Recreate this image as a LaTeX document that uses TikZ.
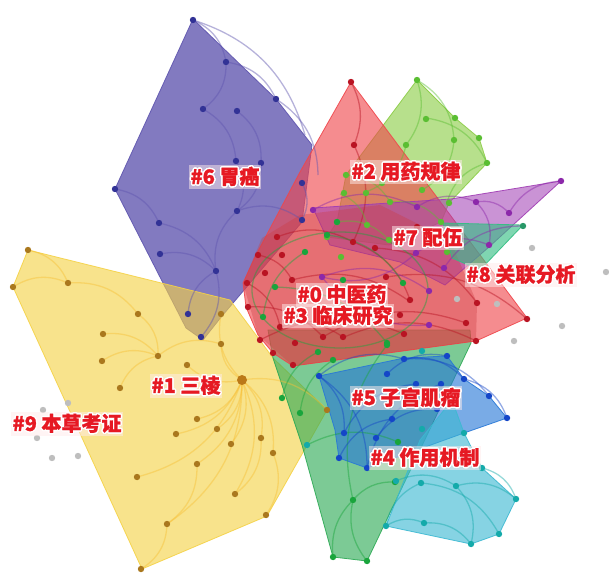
\documentclass[tikz,border=0pt]{standalone}
\usepackage{fontspec}
\newfontfamily\cjk{Noto Sans CJK SC}[BoldFeatures={FakeBold=1.2}]
\usepackage{contour}
\contourlength{1.4pt}
\contournumber{16}
\definecolor{cpur}{RGB}{95,85,175}
\definecolor{cred}{RGB}{240,70,75}
\definecolor{cyel}{RGB}{245,210,70}
\definecolor{clgr}{RGB}{140,205,70}
\definecolor{cmag}{RGB}{160,60,180}
\definecolor{cgrn}{RGB}{45,170,85}
\definecolor{cblu}{RGB}{40,120,215}
\definecolor{ccya}{RGB}{60,185,210}
\definecolor{ctea}{RGB}{50,190,130}
\definecolor{dpur}{RGB}{50,50,150}
\definecolor{dred}{RGB}{185,20,35}
\definecolor{dlgr}{RGB}{90,190,50}
\definecolor{dmag}{RGB}{140,40,170}
\definecolor{dgrn}{RGB}{25,165,60}
\definecolor{dblu}{RGB}{20,70,200}
\definecolor{dcya}{RGB}{20,170,170}
\definecolor{dyel}{RGB}{170,120,30}
\definecolor{dgray}{RGB}{190,190,190}
\definecolor{labred}{RGB}{230,25,35}
\definecolor{labbg}{RGB}{255,235,235}
\begin{document}
\begin{tikzpicture}[x=1pt,y=-1pt,
  poly/.style={fill=#1, fill opacity=0.62, draw=#1, draw opacity=0.9, line width=0.8pt, line join=round},
  arcl/.style={draw=#1, line width=1.3pt, opacity=0.45},
  lab/.style={font=\cjk\bfseries\fontsize{20}{20}\selectfont, text=labred, fill=labbg, fill opacity=0.5, text opacity=1, inner sep=1.5pt}]
\useasboundingbox (0,0) rectangle (609,572);
\fill[white] (0,0) rectangle (609,572);

% ---- polygons ----
\fill[poly=cpur, fill opacity=0.78] (193,19) -- (276,99) -- (312,145) -- (302,222) -- (222,316) -- (203,340) -- (186,328) -- (115,189) -- cycle;
\fill[poly=cyel] (28,250) -- (230,300) -- (273,358) -- (327,410) -- (267,516) -- (142,569) -- (13,287) -- cycle;
\fill[poly=cgrn] (268,330) -- (470,330) -- (471,343) -- (367,561) -- (333,557) -- (302,445) -- (273,358) -- cycle;
\fill[poly=clgr] (417,80) -- (455,118) -- (479,138) -- (487,163) -- (449,203) -- (441,222) -- (389,245) -- (327,237) -- (337,222) -- (346,175) -- cycle;
\fill[poly=cred] (351,82) -- (527,318) -- (476,341) -- (293,366) -- (273,353) -- (258,335) -- (246,307) -- (243,283) -- (256,255) -- (300,172) -- cycle;
\fill[poly=cmag, fill opacity=0.55] (313,208) -- (451,199) -- (561,181) -- (489,247) -- (445,285) -- (400,262) -- (330,245) -- cycle;
\fill[cred!85!black, fill opacity=0.35] (300,215) -- (380,205) -- (450,240) -- (477,303) -- (476,341) -- (293,366) -- (258,335) -- (243,283) -- (262,238) -- cycle;
\fill[poly=ctea] (443,223) -- (523,225) -- (480,270) -- (452,258) -- cycle;
\fill[poly=cblu] (319,376) -- (404,358) -- (447,356) -- (464,379) -- (489,396) -- (507,418) -- (464,433) -- (367,468) -- (339,458) -- (335,430) -- cycle;
\fill[poly=ccya] (420,440) -- (452,400) -- (464,433) -- (482,468) -- (516,499) -- (499,534) -- (471,544) -- (386,526) -- cycle;

% ---- arcs ----
\foreach \ax/\ay/\bx/\by in {193/20/226/62, 226/62/276/99, 226/62/203/109, 203/109/236/161, 237/111/261/163, 236/161/237/211, 261/163/237/211, 237/211/302/220, 115/189/159/223, 159/223/216/271, 216/271/237/211, 160/254/216/271, 216/271/201/337, 188/314/216/271, 193/20/305/135, 276/99/318/175, 302/183/302/220}
  \draw[arcl=cpur] (\ax,\ay) to[bend left=28] (\bx,\by);
\foreach \ax/\ay/\bx/\by in {242/380/197/419, 242/380/217/429, 242/380/176/434, 242/380/231/444, 242/380/261/438, 242/380/273/453, 242/380/197/464, 242/380/137/477, 242/380/235/494, 242/380/167/524, 242/380/221/344, 242/380/221/314, 242/380/187/365, 242/380/327/410, 138/314/158/356, 103/334/158/356, 102/361/158/356, 158/356/221/344, 68/283/138/314, 28/250/68/283, 13/287/68/283, 120/388/158/356, 167/524/141/569, 197/464/167/524, 273/453/266/515, 261/438/235/494}
  \draw[arcl=cyel!80!orange] (\ax,\ay) to[bend left=28] (\bx,\by);
\foreach \ax/\ay/\bx/\by in {351/82/354/145, 354/145/354/240, 277/237/353/242, 258/255/292/280, 247/283/280/327, 280/327/343/337, 353/242/410/300, 375/248/477/303, 292/280/409/301, 248/307/323/337, 323/337/466/323, 386/277/527/319, 342/338/476/341, 260/340/404/334}
  \draw[arcl=dred] (\ax,\ay) to[bend left=25] (\bx,\by);
\foreach \ax/\ay/\bx/\by in {417/80/406/145, 417/80/454/140, 426/118/487/163, 406/145/366/192, 454/140/422/190, 346/175/390/202, 340/194/367/225, 390/202/441/222, 337/222/389/240, 447/202/487/163}
  \draw[arcl=dlgr] (\ax,\ay) to[bend left=28] (\bx,\by);
\foreach \ax/\ay/\bx/\by in {476/202/509/213, 476/202/489/245, 509/213/561/181, 417/207/476/202, 416/253/489/245, 313/210/417/207, 322/277/429/291, 444/268/523/226, 429/325/322/277, 416/253/322/277}
  \draw[arcl=dmag] (\ax,\ay) to[bend left=28] (\bx,\by);
\draw[arcl=dgrn] (340,290) ellipse (88 and 58);
\foreach \ax/\ay/\bx/\by in {333/557/353/500, 367/561/353/500, 353/500/395/482, 282/398/318/352, 300/413/333/360, 307/445/398/442, 353/500/387/345, 263/317/305/252, 327/235/403/283, 275/287/387/343}
  \draw[arcl=dgrn] (\ax,\ay) to[bend left=25] (\bx,\by);
\foreach \ax/\ay/\bx/\by in {319/376/404/359, 319/376/344/433, 387/374/447/356, 404/359/464/379, 344/433/416/384, 339/458/392/419, 367/468/441/384, 376/438/437/409, 464/379/507/418, 404/359/489/396, 319/376/367/468}
  \draw[arcl=dblu] (\ax,\ay) to[bend left=28] (\bx,\by);
\foreach \ax/\ay/\bx/\by in {386/526/424/523, 424/523/471/544, 421/483/499/534, 456/486/516/499, 396/481/456/486, 456/486/471/544, 482/468/516/499, 386/526/421/483}
  \draw[arcl=dcya] (\ax,\ay) to[bend left=28] (\bx,\by);

% ---- dots ----
\foreach \x/\y in {193/20, 226/62, 276/99, 203/109, 237/111, 236/161, 261/163, 115/189, 237/211, 302/220, 159/223, 160/254, 216/271, 188/314, 201/337, 302/183}
  \fill[dpur] (\x,\y) circle[radius=3.2pt];
\foreach \x/\y in {28/250, 68/283, 13/287, 138/314, 103/334, 102/361, 158/356, 187/365, 120/388, 221/314, 221/344, 197/419, 217/429, 176/434, 231/444, 261/438, 273/453, 197/464, 137/477, 235/494, 266/515, 167/524, 141/569, 327/410}
  \fill[dyel] (\x,\y) circle[radius=3.2pt];
\fill[dyel!80!orange] (242,380) circle[radius=5pt];
\foreach \x/\y in {351/82, 354/145, 277/237, 258/255, 282/255, 265/273, 292/280, 247/283, 248/307, 353/242, 375/248, 280/327, 260/340, 295/343, 323/337, 343/337, 273/353, 293/365, 410/300, 400/315, 404/334, 386/277, 477/303, 466/323, 476/341, 527/319, 417/227}
  \fill[dred] (\x,\y) circle[radius=3.2pt];
\foreach \x/\y in {417/80, 426/119, 455/118, 479/138, 454/140, 406/145, 487/163, 449/203, 346/175, 344/193, 366/193, 390/202, 422/190, 382/183, 367/225, 337/222, 327/237, 341/257, 389/240, 441/222, 447/252}
  \fill[dlgr] (\x,\y) circle[radius=3.2pt];
\foreach \x/\y in {561/181, 476/202, 509/213, 489/245, 313/210, 417/207, 416/253, 444/268, 322/277, 429/291, 429/325}
  \fill[dmag] (\x,\y) circle[radius=3.2pt];
\fill[ctea!80!black] (523,226) circle[radius=3.2pt];
\foreach \x/\y in {263/317, 275/287, 305/252, 327/235, 337/222, 343/280, 403/283, 387/343, 318/352, 333/360, 282/398, 300/413, 353/500, 395/482, 398/442, 387/345, 333/557, 367/561}
  \fill[dgrn] (\x,\y) circle[radius=3.2pt];
\foreach \x/\y in {319/376, 387/374, 404/359, 447/356, 464/379, 489/396, 507/418, 416/384, 441/384, 437/409, 392/419, 344/433, 376/438, 339/458, 367/468}
  \fill[dblu] (\x,\y) circle[radius=3.2pt];
\foreach \x/\y in {422/351, 464/433, 482/468, 456/486, 421/483, 396/481, 516/499, 499/534, 471/544, 424/523, 386/526, 422/429, 307/445}
  \fill[dcya] (\x,\y) circle[radius=3.2pt];
\foreach \x/\y in {43/410, 68/403, 37/438, 52/458, 78/456, 532/248, 606/272, 562/326, 514/341, 457/299, 497/304}
  \fill[dgray] (\x,\y) circle[radius=3.2pt];

% ---- labels ----
\node[lab] (l6) at (225,177) {\contour{white}{\#6 胃癌}};
\node[lab] (l2) at (406,172) {\contour{white}{\#2 用药规律}};
\node[lab] (l7) at (428,238) {\contour{white}{\#7 配伍}};
\node[lab] (l8) at (521,275) {\contour{white}{\#8 关联分析}};
\node[lab] (l0) at (342,295) {\contour{white}{\#0 中医药}};
\node[lab] (l3) at (338,316) {\contour{white}{\#3 临床研究}};
\node[lab] (l1) at (186,386) {\contour{white}{\#1 三棱}};
\node[lab] (l9) at (67,424) {\contour{white}{\#9 本草考证}};
\node[lab] (l5) at (406,398) {\contour{white}{\#5 子宫肌瘤}};
\node[lab] (l4) at (425,458) {\contour{white}{\#4 作用机制}};
\end{tikzpicture}
\end{document}
